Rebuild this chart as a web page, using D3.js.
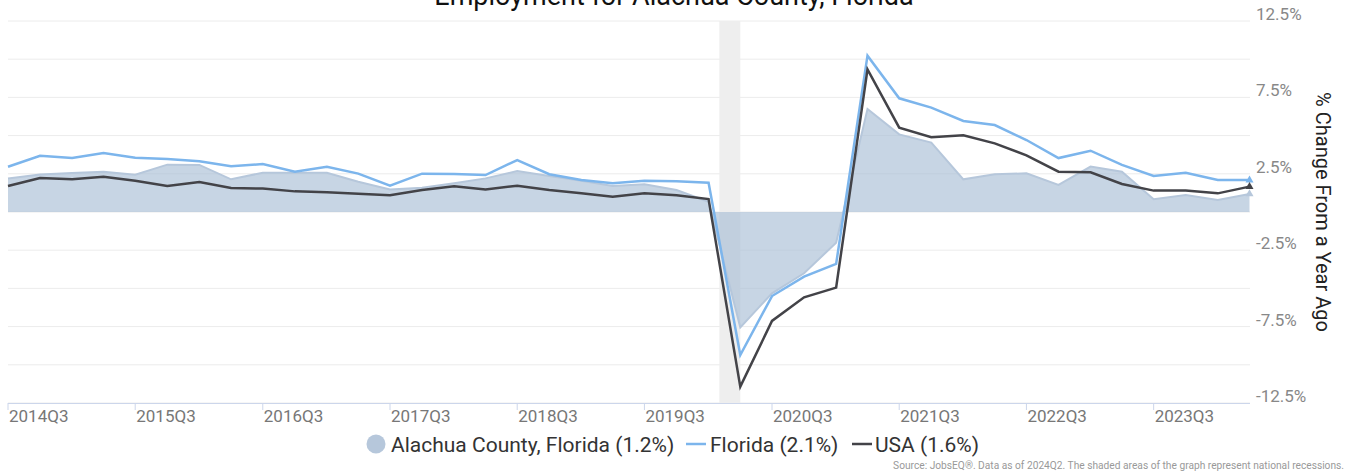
<!DOCTYPE html>
<meta charset="utf-8">
<script src="https://d3js.org/d3.v7.min.js"></script>
<style>
  body { margin: 0; background: #fff; }
  svg text { font-family: Roboto, "Liberation Sans", sans-serif; }
</style>
<div id="chart"></div>
<script>
// quarters shown on the x axis
var quarters = ["2014Q3","2014Q4","2015Q1","2015Q2","2015Q3","2015Q4","2016Q1","2016Q2",
  "2016Q3","2016Q4","2017Q1","2017Q2","2017Q3","2017Q4","2018Q1","2018Q2",
  "2018Q3","2018Q4","2019Q1","2019Q2","2019Q3","2019Q4","2020Q1","2020Q2",
  "2020Q3","2020Q4","2021Q1","2021Q2","2021Q3","2021Q4","2022Q1","2022Q2",
  "2022Q3","2022Q4","2023Q1","2023Q2","2023Q3","2023Q4","2024Q1","2024Q2"];

// % change from a year ago
var alachua = [2.20,2.46,2.55,2.64,2.44,3.10,3.08,2.14,2.57,2.57,2.57,1.98,
  1.48,1.58,1.88,2.20,2.68,2.36,2.05,1.70,1.81,1.44,0.67,-7.55,
  -5.32,-4.01,-2.01,6.74,5.08,4.54,2.14,2.47,2.53,1.77,2.97,2.64,0.83,1.11,0.79,1.18];
var florida = [2.96,3.68,3.53,3.86,3.55,3.47,3.32,2.99,3.14,2.64,2.96,2.51,
  1.72,2.51,2.49,2.42,3.40,2.47,2.09,1.88,2.05,2.01,1.92,-9.36,
  -5.50,-4.23,-3.40,10.23,7.44,6.83,5.96,5.69,4.71,3.53,4.01,3.08,2.36,2.57,2.09,2.09];
var usa = [1.70,2.23,2.14,2.31,2.05,1.70,1.96,1.57,1.53,1.35,1.29,1.20,
  1.09,1.44,1.68,1.48,1.72,1.44,1.22,1.00,1.22,1.09,0.85,-11.43,
  -7.13,-5.58,-4.95,9.34,5.52,4.89,5.02,4.49,3.71,2.64,2.60,1.83,1.40,1.40,1.22,1.66];

var xTickLabels = ["2014Q3","2015Q3","2016Q3","2017Q3","2018Q3","2019Q3","2020Q3","2021Q3","2022Q3","2023Q3"];
var yGridValues = [12.5,10,7.5,5,2.5,0,-2.5,-5,-7.5,-10,-12.5];
var yTickLabels = [12.5,7.5,2.5,-2.5,-7.5,-12.5];
var recession = ["2020-02","2020-04"];

var legendItems = ["Alachua County, Florida (1.2%)","Florida (2.1%)","USA (1.6%)"];

var width = 1348, height = 475;
var plotLeft = 8, plotRight = 1250, plotTop = 21, plotBottom = 403;

function qDate(q) {
  return new Date(+q.slice(0,4), (+q.slice(5) - 1) * 3, 1);
}
function mDate(m) {
  return new Date(+m.slice(0,4), +m.slice(5) - 1, 1);
}

var x = d3.scaleTime()
  .domain([qDate(quarters[0]), qDate(quarters[quarters.length-1])])
  .range([plotLeft, plotRight - 0.5]);
var y = d3.scaleLinear().domain([-12.5, 12.5]).range([plotBottom, plotTop]);

var svg = d3.select("#chart").append("svg")
  .attr("width", width).attr("height", height);

// title (partly clipped at the top like the original)
svg.append("text")
  .attr("x", 674).attr("y", 5)
  .attr("text-anchor", "middle")
  .style("font-size", "27px").style("fill", "#111")
  .text("Employment for Alachua County, Florida");

// gridlines
svg.append("g").selectAll("line").data(yGridValues).enter().append("line")
  .attr("x1", plotLeft).attr("x2", plotRight)
  .attr("y1", function(d){ return y(d); }).attr("y2", function(d){ return y(d); })
  .style("stroke", "#ececec").style("stroke-width", 1);

// recession band
svg.append("rect")
  .attr("x", x(mDate(recession[0])))
  .attr("width", x(mDate(recession[1])) - x(mDate(recession[0])))
  .attr("y", plotTop).attr("height", plotBottom - plotTop)
  .style("fill", "#eeeeee");

// county area
var area = d3.area()
  .x(function(d,i){ return x(qDate(quarters[i])); })
  .y0(y(0))
  .y1(function(d){ return y(d); });
svg.append("path").datum(alachua)
  .attr("d", area)
  .style("fill", "#a9bed6").style("fill-opacity", 0.65);

var line = d3.line()
  .x(function(d,i){ return x(qDate(quarters[i])); })
  .y(function(d){ return y(d); });

svg.append("path").datum(alachua).attr("d", line)
  .style("fill", "none").style("stroke", "#b6c7db").style("stroke-width", 2);
svg.append("path").datum(florida).attr("d", line)
  .style("fill", "none").style("stroke", "#7cb5ec").style("stroke-width", 2.5);
svg.append("path").datum(usa).attr("d", line)
  .style("fill", "none").style("stroke", "#434348").style("stroke-width", 2.5);

// markers on last point
var last = quarters.length - 1;
[[alachua, "#b6c7db"], [florida, "#7cb5ec"], [usa, "#434348"]].forEach(function(s){
  svg.append("path")
    .attr("d", d3.symbol(d3.symbolTriangle).size(28))
    .attr("transform", "translate(" + x(qDate(quarters[last])) + "," + y(s[0][last]) + ")")
    .style("fill", s[1]);
});

// x axis
svg.append("line")
  .attr("x1", plotLeft).attr("x2", plotRight).attr("y1", plotBottom + 0.5).attr("y2", plotBottom + 0.5)
  .style("stroke", "#ccd6eb");
var xt = svg.append("g").selectAll("g").data(xTickLabels).enter().append("g")
  .attr("transform", function(d){ return "translate(" + x(qDate(d)) + ",0)"; });
xt.append("line")
  .attr("x1", 0).attr("x2", 0).attr("y1", plotBottom).attr("y2", plotBottom + 7)
  .style("stroke", "#ccd6eb");
xt.append("text")
  .attr("x", 1).attr("y", 422)
  .style("font-size", "17px").style("fill", "#777")
  .text(function(d){ return d; });

// y labels on the right
svg.append("g").selectAll("text").data(yTickLabels).enter().append("text")
  .attr("x", 1256).attr("y", function(d){ return y(d) - 1; })
  .style("font-size", "17px").style("fill", "#888")
  .text(function(d){ return d + "%"; });

svg.append("text")
  .attr("transform", "translate(1316," + y(0) + ") rotate(90)")
  .attr("text-anchor", "middle")
  .style("font-size", "20px").style("fill", "#222")
  .text("% Change From a Year Ago");

// legend
var lg = svg.append("g");
lg.append("circle").attr("cx", 376).attr("cy", 444).attr("r", 9.5).style("fill", "#b6c7db");
lg.append("text").attr("x", 391).attr("y", 452).style("font-size", "21px").style("fill", "#333")
  .text(legendItems[0]);
lg.append("line").attr("x1", 686).attr("x2", 706).attr("y1", 444).attr("y2", 444)
  .style("stroke", "#7cb5ec").style("stroke-width", 2.5);
lg.append("text").attr("x", 710).attr("y", 452).style("font-size", "21px").style("fill", "#333")
  .text(legendItems[1]);
lg.append("line").attr("x1", 852).attr("x2", 872).attr("y1", 444).attr("y2", 444)
  .style("stroke", "#434348").style("stroke-width", 2.5);
lg.append("text").attr("x", 875).attr("y", 452).style("font-size", "21px").style("fill", "#333")
  .text(legendItems[2]);

svg.append("text")
  .attr("x", 1344).attr("y", 469).attr("text-anchor", "end")
  .style("font-size", "10.2px").style("fill", "#999")
  .text("Source: JobsEQ\u00ae. Data as of 2024Q2. The shaded areas of the graph represent national recessions.");
</script>
